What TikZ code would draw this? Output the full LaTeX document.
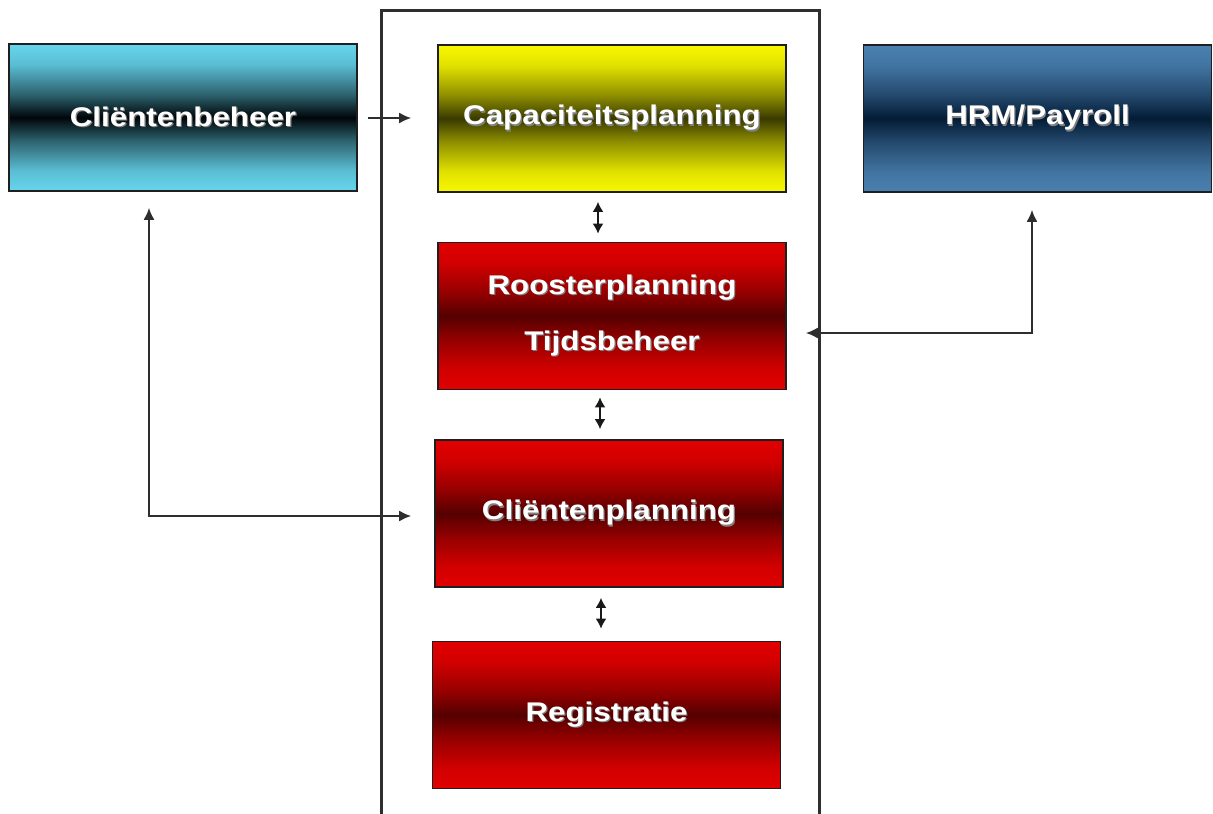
\documentclass[tikz,border=0pt]{standalone}
\usepackage{fontspec}
\newfontfamily\bxfont[FakeStretch=1.16]{Liberation Sans}
\usetikzlibrary{arrows.meta}
\definecolor{cyL}{HTML}{66D6EE}
\definecolor{cyD}{HTML}{000609}
\definecolor{yeL}{HTML}{F8F800}
\definecolor{yeD}{HTML}{3A3A00}
\definecolor{reL}{HTML}{E20000}
\definecolor{reD}{HTML}{550000}
\definecolor{blL}{HTML}{4A80B0}
\definecolor{blD}{HTML}{041C36}
\definecolor{lineC}{HTML}{2E2E2E}
\colorlet{cyA}{cyL!88!cyD}\colorlet{cyB}{cyL!45!cyD}
\colorlet{yeA}{yeL!88!yeD}\colorlet{yeB}{yeL!45!yeD}
\colorlet{reA}{reL!88!reD}\colorlet{reB}{reL!45!reD}
\colorlet{blA}{blL!88!blD}\colorlet{blB}{blL!45!blD}
\pgfdeclareverticalshading{cyanshade}{100bp}{color(0bp)=(cyL); color(25bp)=(cyL); color(32bp)=(cyA); color(42bp)=(cyB); color(50bp)=(cyD); color(58bp)=(cyB); color(68bp)=(cyA); color(75bp)=(cyL); color(100bp)=(cyL)}
\pgfdeclareverticalshading{yellowshade}{100bp}{color(0bp)=(yeL); color(25bp)=(yeL); color(32bp)=(yeA); color(42bp)=(yeB); color(50bp)=(yeD); color(58bp)=(yeB); color(68bp)=(yeA); color(75bp)=(yeL); color(100bp)=(yeL)}
\pgfdeclareverticalshading{redshade}{100bp}{color(0bp)=(reL); color(25bp)=(reL); color(32bp)=(reA); color(42bp)=(reB); color(50bp)=(reD); color(58bp)=(reB); color(68bp)=(reA); color(75bp)=(reL); color(100bp)=(reL)}
\pgfdeclareverticalshading{blueshade}{100bp}{color(0bp)=(blL); color(25bp)=(blL); color(32bp)=(blA); color(42bp)=(blB); color(50bp)=(blD); color(58bp)=(blB); color(68bp)=(blA); color(75bp)=(blL); color(100bp)=(blL)}
\newcommand\shtxt[1]{\leavevmode\rlap{\kern1.2pt\raisebox{-1.2pt}{\textcolor{black!50}{#1}}}#1}
\tikzset{
  box/.style={draw=black!88, line width=1.6pt, inner sep=0pt, minimum width=348pt, minimum height=147pt,
    text=white, align=center, font=\bxfont\bfseries\fontsize{27}{56}\selectfont},
  frame/.style={draw=lineC, line width=3pt},
  tip/.tip={Latex[length=12pt,width=11pt]},
  conn/.style={draw=lineC, line width=2pt, -tip},
  dbl/.style={draw=black!90, line width=2.8pt, {Latex[length=10pt,width=11pt]}-{Latex[length=10pt,width=11pt]}}
}
\begin{document}
\begin{tikzpicture}[x=1pt,y=-1pt]
\useasboundingbox (0,0) rectangle (1213,814);
\draw[frame] (381,814) -- (381,10) -- (819,10) -- (819,814);
\node[box, shading=cyanshade] (cb) at (183,117.5) {\shtxt{Cliëntenbeheer}};
\node[box, shading=yellowshade] (cap) at (612,118.5) {\shtxt{Capaciteitsplanning}};
\node[box, shading=blueshade] (hrm) at (1037.5,118.5) {\shtxt{HRM/Payroll}};
\node[box, shading=redshade] (roost) at (612,316) {\shtxt{Roosterplanning}\\\shtxt{Tijdsbeheer}};
\node[box, shading=redshade] (cp) at (609,513.5) {\shtxt{Cliëntenplanning}};
\node[box, shading=redshade] (reg) at (606.5,715) {\shtxt{Registratie}};
\draw[conn] ([xshift=10pt,yshift=-0.5pt]cb.east) -- ([xshift=-26pt,yshift=0.5pt]cap.west);
\draw[dbl] ([xshift=-14pt,yshift=-9pt]cap.south) -- ([xshift=-14pt,yshift=8pt]roost.north);
\draw[dbl] ([xshift=-12pt,yshift=-7pt]roost.south) -- ([xshift=-9pt,yshift=10pt]cp.north);
\draw[dbl] ([xshift=-8pt,yshift=-10pt]cp.south) -- ([xshift=-5.5pt,yshift=12pt]reg.north);
\draw[conn, tip-tip] ([xshift=19pt,yshift=-17pt]roost.east) -| ([xshift=-5.5pt,yshift=-17pt]hrm.south);
\draw[conn, tip-tip] ([xshift=-34pt,yshift=-16pt]cb.south) |- ([xshift=-23pt,yshift=-2.5pt]cp.west);
\end{tikzpicture}
\end{document}
